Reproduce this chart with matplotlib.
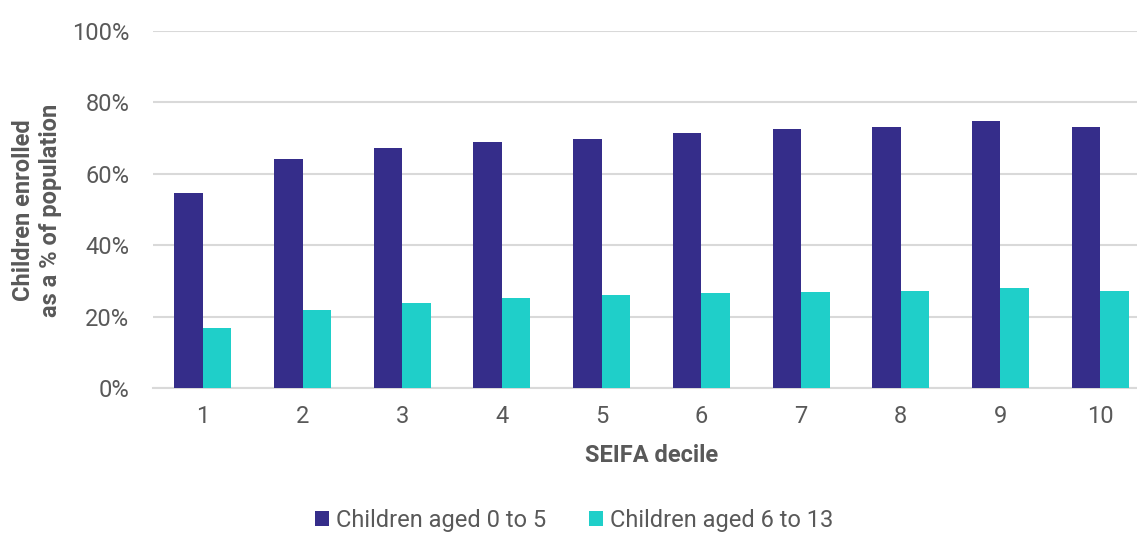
import numpy as np
import matplotlib.pyplot as plt
from matplotlib.ticker import PercentFormatter

plt.rcParams['font.family'] = ['Roboto', 'DejaVu Sans']

deciles = ['1', '2', '3', '4', '5', '6', '7', '8', '9', '10']
aged_0_5 = [54.5, 64.2, 67.3, 68.9, 69.8, 71.4, 72.6, 73.0, 74.7, 73.0]
aged_6_13 = [16.9, 21.8, 23.7, 25.1, 26.0, 26.6, 27.0, 27.3, 28.0, 27.3]

dark = '#352D8A'
teal = '#1FCFC9'
grey = '#595959'

fig = plt.figure(figsize=(11.37, 5.33), dpi=100)
ax = fig.add_axes([153 / 1137, 1 - 388 / 533, (1150 - 153) / 1137, (388 - 31) / 533])

x = np.arange(1, len(deciles) + 1)
w = 0.286
ax.bar(x - w / 2, aged_0_5, width=w, color=dark, label='Children aged 0 to 5', zorder=3)
ax.bar(x + w / 2, aged_6_13, width=w, color=teal, label='Children aged 6 to 13', zorder=3)

ax.set_xlim(0.5, 10.5)
ax.set_ylim(0, 100)
ax.set_yticks(np.arange(0, 101, 20))
ax.yaxis.set_major_formatter(PercentFormatter(decimals=0))
ax.set_xticks(x)
ax.set_xticklabels(deciles)
ax.grid(axis='y', color='#D9D9D9', linewidth=1.5, zorder=0)
for s in ['top', 'right', 'left']:
    ax.spines[s].set_visible(False)
ax.spines['bottom'].set_color('#D9D9D9')
ax.spines['bottom'].set_linewidth(1.5)
ax.tick_params(axis='both', length=0, labelsize=17, labelcolor=grey)
ax.tick_params(axis='x', pad=12)
ax.tick_params(axis='y', pad=17)

ax.set_xlabel('SEIFA decile', fontsize=17, fontweight='bold', color=grey, labelpad=12)
fig.text(37 / 1137, 1 - 210 / 533, 'Children enrolled\nas a % of population', rotation=90,
         ha='center', va='center', fontsize=17, fontweight='bold', color=grey, linespacing=1.2)

fig.legend(loc='center', bbox_to_anchor=(0.505, 1 - 520 / 533), ncol=2, frameon=False,
           fontsize=17, labelcolor=grey, handlelength=0.6, handleheight=0.6,
           handletextpad=0.3, columnspacing=1.8)

fig.savefig('out.png', dpi=100)
